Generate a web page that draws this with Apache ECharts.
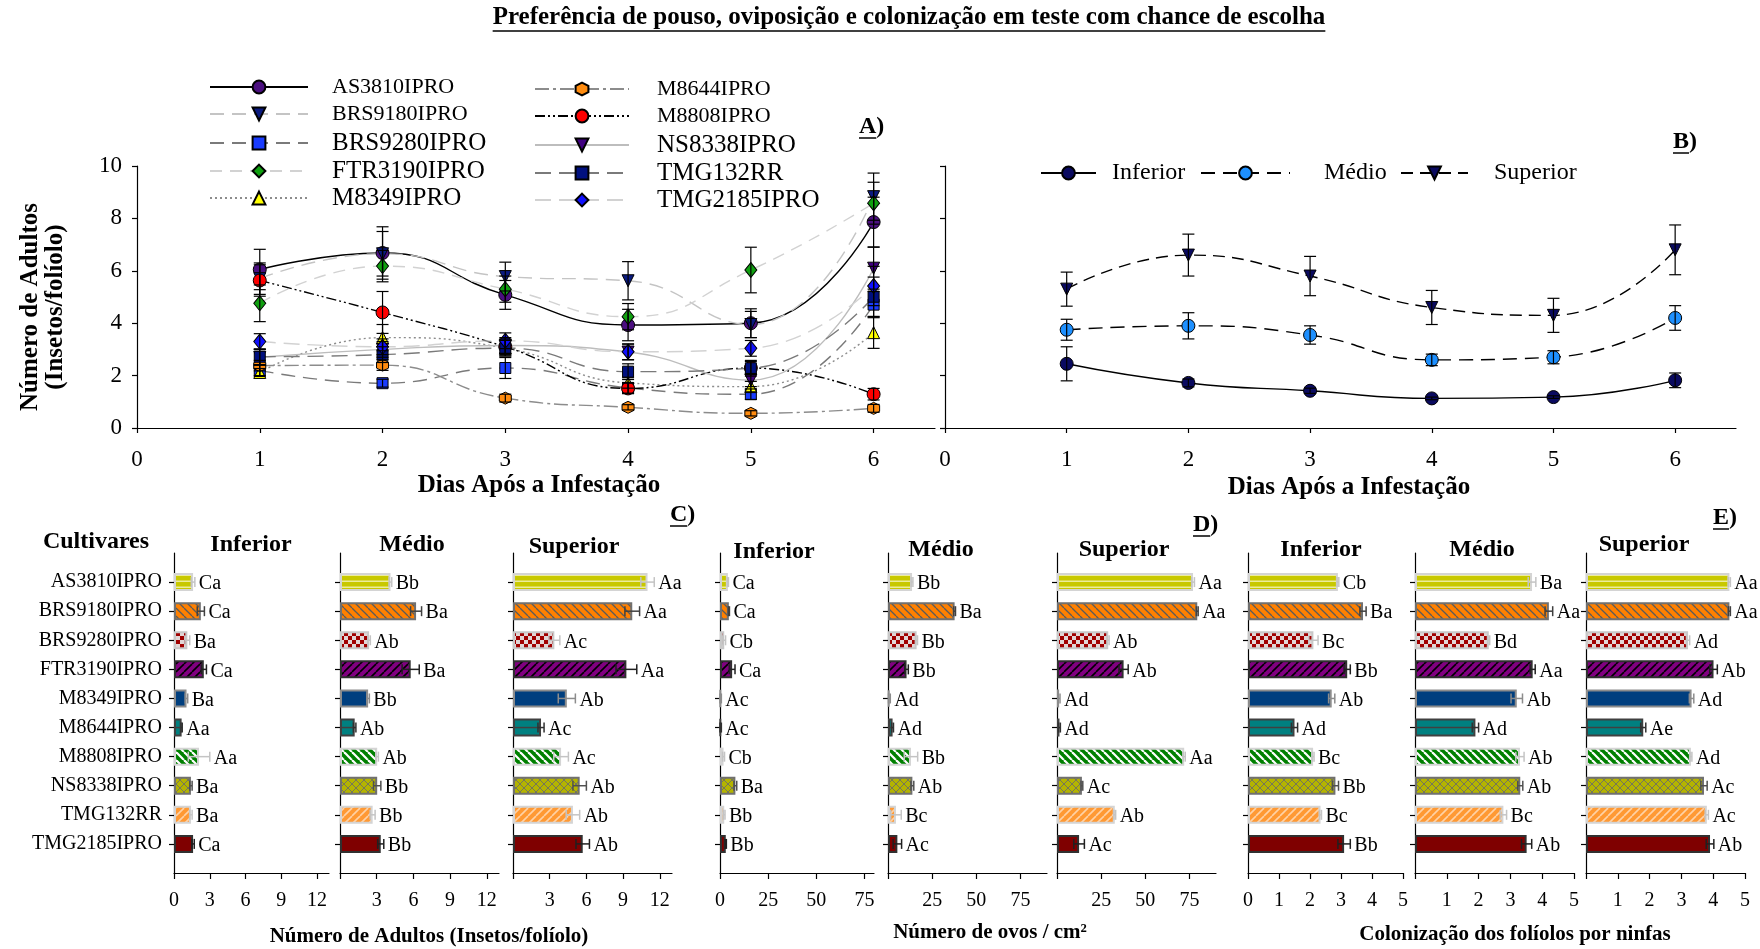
<!DOCTYPE html>
<html>
<head>
<meta charset="utf-8">
<title>Preferência de pouso, oviposição e colonização</title>
<script src="https://cdn.jsdelivr.net/npm/echarts@6.0.0/dist/echarts.min.js"></script>
<style>
  html, body { margin: 0; padding: 0; background: #fff; }
  #chart { width: 1760px; height: 949px; }
</style>
</head>
<body>
<div id="chart"></div>
<script>
(function () {
  /** Data */
  var cultivars = ['AS3810IPRO', 'BRS9180IPRO', 'BRS9280IPRO', 'FTR3190IPRO', 'M8349IPRO',
    'M8644IPRO', 'M8808IPRO', 'NS8338IPRO', 'TMG132RR', 'TMG2185IPRO'];
  var days = [1, 2, 3, 4, 5, 6];

  // A) adultos/folíolo por cultivar, dias 1..6
  var adultsByDay = [
    [6.05, 6.68, 5.08, 3.93, 4.00, 7.86],
    [5.70, 6.65, 5.78, 5.62, 3.95, 8.83],
    [2.20, 1.71, 2.29, 1.53, 1.29, 4.71],
    [4.76, 6.18, 5.30, 4.25, 6.03, 8.58],
    [2.12, 3.45, 3.05, 1.72, 1.58, 3.64],
    [2.38, 2.40, 1.14, 0.79, 0.56, 0.75],
    [5.63, 4.41, 3.10, 1.51, 2.29, 1.29],
    [2.70, 3.00, 3.15, 2.90, 1.83, 6.10],
    [2.72, 2.80, 3.05, 2.15, 2.28, 5.01],
    [3.30, 3.10, 3.33, 2.91, 3.04, 5.42]
  ];
  var adultsByDayErr = [
    [0.77, 1.00, 0.55, 0.60, 0.55, 0.95],
    [0.60, 0.85, 0.55, 0.73, 0.50, 0.90],
    [0.20, 0.15, 0.40, 0.20, 0.20, 0.50],
    [0.70, 0.60, 0.50, 0.50, 0.87, 0.80],
    [0.15, 0.50, 0.30, 0.20, 0.20, 0.60],
    [0.20, 0.20, 0.15, 0.10, 0.10, 0.15],
    [0.60, 0.80, 0.30, 0.20, 0.25, 0.22],
    [0.30, 0.30, 0.30, 0.30, 0.25, 0.80],
    [0.30, 0.30, 0.30, 0.30, 0.30, 0.75],
    [0.30, 0.30, 0.30, 0.30, 0.30, 0.75]
  ];

  // B) estratos da planta
  var strata = ['Inferior', 'Médio', 'Superior'];
  var strataInf = [2.45, 1.72, 1.42, 1.13, 1.18, 1.82];
  var strataInfErr = [0.65, 0.15, 0.10, 0.05, 0.05, 0.28];
  var strataMed = [3.75, 3.90, 3.55, 2.60, 2.70, 4.20];
  var strataMedErr = [0.40, 0.50, 0.35, 0.22, 0.25, 0.47];
  var strataSup = [5.30, 6.60, 5.80, 4.60, 4.30, 6.80];
  var strataSupErr = [0.65, 0.80, 0.75, 0.65, 0.65, 0.95];

  // C) número de adultos (insetos/folíolo)
  var adultInf = [1.60, 2.25, 1.12, 2.50, 1.05, 0.64, 2.10, 1.42, 1.42, 1.60];
  var adultInfErr = [0.15, 0.30, 0.20, 0.22, 0.10, 0.05, 0.90, 0.10, 0.10, 0.10];
  var adultInfLet = ['Ca', 'Ca', 'Ba', 'Ca', 'Ba', 'Aa', 'Aa', 'Ba', 'Ba', 'Ca'];
  var adultMed = [4.13, 6.22, 2.38, 5.78, 2.30, 1.20, 3.04, 3.04, 2.67, 3.33];
  var adultMedErr = [0.10, 0.45, 0.10, 0.70, 0.10, 0.10, 0.10, 0.30, 0.20, 0.25];
  var adultMedLet = ['Bb', 'Ba', 'Ab', 'Ba', 'Bb', 'Ab', 'Ab', 'Bb', 'Bb', 'Bb'];
  var adultSup = [11.0, 9.75, 3.38, 9.27, 4.40, 2.29, 3.93, 5.45, 4.90, 5.70];
  var adultSupErr = [0.55, 0.60, 0.45, 0.85, 0.70, 0.25, 0.60, 0.55, 0.55, 0.55];
  var adultSupLet = ['Aa', 'Aa', 'Ac', 'Aa', 'Ab', 'Ac', 'Ac', 'Ab', 'Ab', 'Ab'];

  // D) número de ovos / cm2
  var eggInf = [4.1, 4.6, 2.2, 6.3, 0.3, 0.3, 1.85, 8.0, 2.2, 3.0];
  var eggInfErr = [0.3, 0.3, 0.7, 1.5, 0.4, 0.4, 0.5, 0.7, 0.4, 0.3];
  var eggInfLet = ['Ca', 'Ca', 'Cb', 'Ca', 'Ac', 'Ac', 'Cb', 'Ba', 'Bb', 'Bb'];
  var eggMed = [13.6, 37.7, 16.2, 10.5, 0.8, 2.6, 13.0, 13.8, 4.5, 5.3];
  var eggMedErr = [0.5, 0.5, 0.5, 1.0, 0.5, 0.5, 3.8, 0.8, 3.0, 2.4];
  var eggMedLet = ['Bb', 'Ba', 'Bb', 'Bb', 'Ad', 'Ad', 'Bb', 'Ab', 'Bc', 'Ac'];
  var eggSup = [77.0, 79.4, 29.0, 37.7, 1.2, 1.4, 72.0, 14.1, 32.7, 12.5];
  var eggSupErr = [0.8, 0.5, 0.5, 2.6, 0.5, 0.5, 0.6, 0.5, 0.5, 3.0];
  var eggSupLet = ['Aa', 'Aa', 'Ab', 'Ab', 'Ad', 'Ad', 'Aa', 'Ac', 'Ab', 'Ac'];

  // E) colonização dos folíolos por ninfas
  var colInf = [2.90, 3.71, 2.11, 3.20, 2.70, 1.50, 2.10, 2.82, 2.34, 3.10];
  var colInfErr = [0.03, 0.10, 0.15, 0.10, 0.10, 0.10, 0.03, 0.10, 0.03, 0.20];
  var colInfLet = ['Cb', 'Ba', 'Bc', 'Bb', 'Ab', 'Ad', 'Bc', 'Bb', 'Bc', 'Bb'];
  var colMed = [3.68, 4.21, 2.32, 3.70, 3.20, 1.90, 3.30, 3.31, 2.78, 3.51];
  var colMedErr = [0.12, 0.12, 0.03, 0.08, 0.18, 0.10, 0.13, 0.08, 0.10, 0.16];
  var colMedLet = ['Ba', 'Aa', 'Bd', 'Aa', 'Ab', 'Ad', 'Ab', 'Ab', 'Bc', 'Ab'];
  var colSup = [4.51, 4.51, 3.21, 4.01, 3.32, 1.80, 3.30, 3.71, 3.80, 3.90];
  var colSupErr = [0.03, 0.03, 0.05, 0.12, 0.07, 0.08, 0.03, 0.10, 0.05, 0.12];
  var colSupLet = ['Aa', 'Aa', 'Ad', 'Ab', 'Ad', 'Ae', 'Ad', 'Ac', 'Ac', 'Ab'];

  /** Styles */
  var serif = '"Liberation Serif", "Times New Roman", serif';
  var triDown = 'path://M0,0 L12,0 L6,11 Z';
  var hexagon = 'path://M6,0 L12,3.5 L12,10.5 L6,14 L0,10.5 L0,3.5 Z';

  var lineLook = [
    { fill: '#4b0f7f', line: '#000000', dash: 'solid',         symbol: 'circle',   size: 13 },
    { fill: '#0a1a80', line: '#c4c4c4', dash: [14, 8],         symbol: triDown,    size: 12 },
    { fill: '#1a3cff', line: '#7a7a7a', dash: [14, 8],         symbol: 'rect',     size: 11 },
    { fill: '#10a010', line: '#d2d2d2', dash: [12, 8],         symbol: 'diamond',  size: [12, 15] },
    { fill: '#ffff00', line: '#8c8c8c', dash: [2, 3],          symbol: 'triangle', size: 12 },
    { fill: '#ff8c10', line: '#8c8c8c', dash: [14, 4, 3, 4],   symbol: hexagon,    size: 12 },
    { fill: '#ff0000', line: '#000000', dash: [10, 3, 2, 3, 2, 3], symbol: 'circle', size: 13 },
    { fill: '#400080', line: '#bdbdbd', dash: 'solid',         symbol: triDown,    size: 12 },
    { fill: '#00107f', line: '#7a7a7a', dash: [16, 8],         symbol: 'rect',     size: 11 },
    { fill: '#1010ff', line: '#d2d2d2', dash: [16, 8],         symbol: 'diamond',  size: [12, 15] }
  ];
  var legendSize = [22, 22, 25, 25, 25, 22, 22, 25, 25, 25];

  function makePattern(bg, fg, kind, lw) {
    var c = document.createElement('canvas');
    c.width = 8; c.height = kind === 'hline' ? 6 : 8;
    var g = c.getContext('2d');
    g.fillStyle = bg; g.fillRect(0, 0, c.width, c.height);
    g.strokeStyle = fg; g.fillStyle = fg; g.lineWidth = lw || 1.5;
    if (kind === 'hline') {
      g.fillRect(0, 4.5, 8, 1.5);
    } else if (kind === 'down' || kind === 'up' || kind === 'cross') {
      [-8, 0, 8].forEach(function (o) {
        if (kind !== 'up') { g.beginPath(); g.moveTo(o, 0); g.lineTo(o + 8, 8); g.stroke(); }
        if (kind !== 'down') { g.beginPath(); g.moveTo(o, 8); g.lineTo(o + 8, 0); g.stroke(); }
      });
    } else if (kind === 'dots') {
      g.fillRect(0, 0, 4, 4); g.fillRect(4, 4, 4, 4);
    }
    return { image: c, repeat: 'repeat' };
  }

  var barFills = [
    makePattern('#c8c800', '#ecec9c', 'hline'),
    makePattern('#ff8000', '#5a5a5a', 'down', 1.3),
    makePattern('#e2d6d6', '#a00000', 'dots'),
    makePattern('#800080', '#000000', 'up', 1.6),
    '#003f7f',
    '#008080',
    makePattern('#008000', '#ffffff', 'down', 2.2),
    makePattern('#b4b400', '#76765a', 'cross', 1),
    makePattern('#ff9933', '#ffd2a6', 'up', 1.6),
    '#7f0000'
  ];
  var barBorders = ['#d4d4d4', '#707070', '#c8c8c8', '#303030', '#8c8c8c',
    '#404040', '#d4d4d4', '#707070', '#d4d4d4', '#303030'];
  var errColors = ['#c4c4c4', '#404040', '#c4c4c4', '#202020', '#8c8c8c',
    '#303030', '#c4c4c4', '#505050', '#c4c4c4', '#202020'];

  var measureCtx = document.createElement('canvas').getContext('2d');
  function textWidth(text, font) { measureCtx.font = font; return measureCtx.measureText(text).width; }

  /** Panels */
  var catSlots = [''].concat(cultivars, [' ']);
  var grids = [
    { left: 137, top: 166, width: 798, height: 262 },
    { left: 945, top: 166, width: 791, height: 262 }
  ];
  var xAxes = [];
  var yAxes = [];
  var series = [];
  var legends = [];

  var axisLineStyle = { color: '#000', width: 1.2 };
  var tickFont = { color: '#000', fontFamily: serif };

  // A and B: dias após a infestação
  [0, 1].forEach(function (g) {
    xAxes.push({
      gridIndex: g, type: 'value', min: 0, max: 6.5,
      axisLine: { lineStyle: axisLineStyle },
      axisTick: { length: 5, customValues: [0].concat(days), lineStyle: axisLineStyle },
      axisLabel: Object.assign({ customValues: [0].concat(days), fontSize: 23, margin: 20 }, tickFont),
      splitLine: { show: false }
    });
    yAxes.push({
      gridIndex: g, type: 'value', min: 0, max: 10, interval: 2,
      axisLine: { show: true, lineStyle: axisLineStyle },
      axisTick: { show: true, length: 5, lineStyle: axisLineStyle },
      axisLabel: Object.assign({ show: g === 0, fontSize: 23, margin: 15 }, tickFont),
      splitLine: { show: false }
    });
  });

  function vErrorItem(params, api) {
    var x = api.value(0), v = api.value(1), e = api.value(2);
    var top = api.coord([x, v + e]), bot = api.coord([x, Math.max(v - e, 0)]);
    var st = { stroke: '#000', lineWidth: 1.2 };
    return { type: 'group', children: [
      { type: 'line', shape: { x1: top[0], y1: top[1], x2: bot[0], y2: bot[1] }, style: st },
      { type: 'line', shape: { x1: top[0] - 6, y1: top[1], x2: top[0] + 6, y2: top[1] }, style: st },
      { type: 'line', shape: { x1: bot[0] - 6, y1: bot[1], x2: bot[0] + 6, y2: bot[1] }, style: st }
    ] };
  }

  var errA = [];
  cultivars.forEach(function (name, i) {
    var look = lineLook[i];
    series.push({
      name: name, type: 'line', xAxisIndex: 0, yAxisIndex: 0, smooth: true,
      symbol: look.symbol, symbolSize: look.size, z: 2,
      itemStyle: { color: look.fill, borderColor: '#000', borderWidth: 1 },
      lineStyle: { color: look.line, width: 1.4, type: look.dash },
      data: days.map(function (d, k) { return [d, adultsByDay[i][k]]; })
    });
    days.forEach(function (d, k) { errA.push([d, adultsByDay[i][k], adultsByDayErr[i][k]]); });
    var col = i < 5 ? 0 : 1;
    var rowsY = col === 0 ? [87, 114, 143, 171, 198] : [89, 116, 145, 173, 200];
    legends.push({
      data: [{ name: name, textStyle: { fontSize: legendSize[i] } }],
      left: col === 0 ? 209 : 534, top: rowsY[i % 5] - 13, padding: 0,
      itemWidth: col === 0 ? 98 : 94, itemHeight: 16, selectedMode: false,
      textStyle: { color: '#000', fontFamily: serif, lineHeight: 26, padding: [0, 0, 0, col === 0 ? 19 : 23] }
    });
  });
  series.push({ type: 'custom', xAxisIndex: 0, yAxisIndex: 0, encode: { x: 0, y: 1 },
    renderItem: vErrorItem, data: errA, z: 3, silent: true });

  var strataVals = [strataInf, strataMed, strataSup];
  var strataErrs = [strataInfErr, strataMedErr, strataSupErr];
  var strataLook = [
    { fill: '#0a0a60', dash: 'solid', symbol: 'circle', icon: 55, left: 1040, pad: 11 },
    { fill: '#1e90ff', dash: [14, 8], symbol: 'circle', icon: 89, left: 1200, pad: 29 },
    { fill: '#0a0a60', dash: [12, 7], symbol: triDown, icon: 67, left: 1400, pad: 21 }
  ];
  var errB = [];
  strata.forEach(function (name, s) {
    var look = strataLook[s];
    series.push({
      name: name, type: 'line', xAxisIndex: 1, yAxisIndex: 1, smooth: true,
      symbol: look.symbol, symbolSize: look.symbol === 'circle' ? 13 : 12, z: 2,
      itemStyle: { color: look.fill, borderColor: '#000', borderWidth: 1 },
      lineStyle: { color: '#000', width: 1.4, type: look.dash },
      data: days.map(function (d, k) { return [d, strataVals[s][k]]; })
    });
    days.forEach(function (d, k) { errB.push([d, strataVals[s][k], strataErrs[s][k]]); });
    legends.push({
      data: [name], left: look.left, top: 173 - 13, padding: 0,
      itemWidth: look.icon, itemHeight: 16, selectedMode: false,
      textStyle: { color: '#000', fontFamily: serif, fontSize: 24, lineHeight: 26, padding: [0, 0, 0, look.pad] }
    });
  });
  series.push({ type: 'custom', xAxisIndex: 1, yAxisIndex: 1, encode: { x: 0, y: 1 },
    renderItem: vErrorItem, data: errB, z: 3, silent: true });

  // C, D, E: barras horizontais por estrato
  var barPanels = [
    { left: 174, width: 155, max: 13, ticks: [0, 3, 6, 9, 12], labels: [0, 3, 6, 9, 12], vals: adultInf, errs: adultInfErr, lets: adultInfLet },
    { left: 340, width: 159, max: 13, ticks: [0, 3, 6, 9, 12], labels: [3, 6, 9, 12], vals: adultMed, errs: adultMedErr, lets: adultMedLet },
    { left: 513, width: 159, max: 13, ticks: [0, 3, 6, 9, 12], labels: [3, 6, 9, 12], vals: adultSup, errs: adultSupErr, lets: adultSupLet },
    { left: 720, width: 154, max: 80, ticks: [0, 25, 50, 75], labels: [0, 25, 50, 75], vals: eggInf, errs: eggInfErr, lets: eggInfLet },
    { left: 888, width: 159, max: 90, ticks: [0, 25, 50, 75], labels: [25, 50, 75], vals: eggMed, errs: eggMedErr, lets: eggMedLet },
    { left: 1057, width: 159, max: 90, ticks: [0, 25, 50, 75], labels: [25, 50, 75], vals: eggSup, errs: eggSupErr, lets: eggSupLet },
    { left: 1248, width: 155, max: 5, ticks: [0, 1, 2, 3, 4, 5], labels: [0, 1, 2, 3, 4, 5], vals: colInf, errs: colInfErr, lets: colInfLet },
    { left: 1415, width: 159, max: 5, ticks: [0, 1, 2, 3, 4, 5], labels: [1, 2, 3, 4, 5], vals: colMed, errs: colMedErr, lets: colMedLet },
    { left: 1586, width: 159, max: 5, ticks: [0, 1, 2, 3, 4, 5], labels: [1, 2, 3, 4, 5], vals: colSup, errs: colSupErr, lets: colSupLet }
  ];

  function hErrorRender(lets) {
    return function (params, api) {
      var i = params.dataIndex;
      var v = api.value(0), y = api.value(1), e = api.value(2);
      var lo = api.coord([Math.max(v - e, 0), y]), hi = api.coord([v + e, y]);
      var st = { stroke: errColors[i], lineWidth: 1.5 };
      var kids = [];
      if (i === 5) {
        var z0 = api.coord([0, y]), z1 = api.coord([v, y]);
        kids.push({ type: 'line', shape: { x1: z0[0], y1: z0[1], x2: z1[0], y2: z1[1] }, style: { stroke: '#404040', lineWidth: 1.5 } });
      }
      kids.push(
        { type: 'line', shape: { x1: lo[0], y1: lo[1], x2: hi[0], y2: hi[1] }, style: st },
        { type: 'line', shape: { x1: lo[0], y1: lo[1] - 5, x2: lo[0], y2: lo[1] + 5 }, style: st },
        { type: 'line', shape: { x1: hi[0], y1: hi[1] - 5, x2: hi[0], y2: hi[1] + 5 }, style: st },
        { type: 'text', x: hi[0] + 4, y: hi[1] + 2,
          style: { text: lets[i], fill: '#000', font: '20px ' + serif, align: 'left', verticalAlign: 'middle' } }
      );
      return { type: 'group', children: kids };
    };
  }

  barPanels.forEach(function (p, k) {
    var g = grids.length;
    grids.push({ left: p.left, top: 553, width: p.width, height: 320 });
    xAxes.push({
      gridIndex: g, type: 'value', min: 0, max: p.max,
      axisLine: { show: true, lineStyle: axisLineStyle },
      axisTick: { show: true, length: 6, customValues: p.ticks, lineStyle: axisLineStyle },
      axisLabel: Object.assign({ customValues: p.labels, fontSize: 20, margin: 18 }, tickFont),
      splitLine: { show: false }
    });
    yAxes.push({
      gridIndex: g, type: 'category', inverse: true, boundaryGap: false, data: catSlots,
      axisLine: { show: true, lineStyle: axisLineStyle },
      axisTick: { show: true, length: 5, lineStyle: axisLineStyle,
        interval: function (idx) { return idx > 0 && idx < catSlots.length - 1; } },
      axisLabel: Object.assign({ show: k === 0, interval: 0, fontSize: 20, margin: 12 }, tickFont),
      splitLine: { show: false }
    });
    var items = p.vals.map(function (v, i) {
      return { value: v, itemStyle: { color: barFills[i], borderColor: barBorders[i], borderWidth: 2 } };
    });
    series.push({
      type: 'bar', xAxisIndex: g, yAxisIndex: g, barWidth: 18, silent: true, z: 2,
      data: ['-'].concat(items, ['-'])
    });
    series.push({
      type: 'custom', xAxisIndex: g, yAxisIndex: g, encode: { x: 0, y: 1 }, z: 3, silent: true,
      renderItem: hErrorRender(p.lets),
      data: p.vals.map(function (v, i) { return [v, i + 1, p.errs[i]]; })
    });
  });

  /** Texts */
  var graphics = [];
  function text(str, x, y, font, opt) {
    graphics.push(Object.assign({
      type: 'text', x: x, y: y, silent: true,
      style: { text: str, font: font, fill: '#000', align: 'center', verticalAlign: 'middle' }
    }, opt || {}));
  }
  function underline(x1, x2, y) {
    graphics.push({ type: 'line', silent: true, shape: { x1: x1, y1: y, x2: x2, y2: y }, style: { stroke: '#000', lineWidth: 1.5 } });
  }
  function panelTag(letter, x, y) {
    var f = 'bold 24px ' + serif;
    var w = textWidth(letter, f);
    text(letter + ')', x, y, f, { style: { text: letter + ')', font: f, fill: '#000', align: 'left', verticalAlign: 'middle' } });
    underline(x, x + w, y + 11);
  }

  var titleText = 'Preferência de pouso, oviposição e colonização em teste com chance de escolha';
  var titleFont = 'bold 25px ' + serif;
  var tw = textWidth(titleText, titleFont);
  text(titleText, 909, 18, titleFont);
  underline(909 - tw / 2, 909 + tw / 2, 31);

  panelTag('A', 859, 127);
  panelTag('B', 1673, 142);
  panelTag('C', 670, 515);
  panelTag('D', 1193, 525);
  panelTag('E', 1713, 518);

  var axisNameFont = 'bold 25px ' + serif;
  graphics.push({
    type: 'text', x: 43, y: 307, rotation: Math.PI / 2, silent: true,
    style: { text: 'Número de Adultos\n(Insetos/folíolo)', font: axisNameFont, lineHeight: 25,
      fill: '#000', align: 'center', verticalAlign: 'middle' }
  });
  text('Dias Após a Infestação', 539, 486, axisNameFont);
  text('Dias Após a Infestação', 1349, 488, axisNameFont);

  var headFont = 'bold 24px ' + serif;
  text('Cultivares', 96, 542, headFont);
  [[251, 545], [412, 545], [574, 547], [774, 552], [941, 550], [1124, 550], [1321, 550], [1482, 550], [1644, 545]]
    .forEach(function (pos, k) { text(strata[k % 3], pos[0], pos[1], headFont); });

  var bottomNameFont = 'bold 21px ' + serif;
  text('Número de Adultos (Insetos/folíolo)', 429, 937, bottomNameFont);
  text('Número de ovos / cm²', 990, 933, bottomNameFont);
  text('Colonização dos folíolos por ninfas', 1515, 935, bottomNameFont);

  var option = {
    animation: false,
    backgroundColor: '#ffffff',
    textStyle: { fontFamily: serif },
    grid: grids.map(function (g) { return Object.assign({ outerBoundsMode: 'none' }, g); }),
    xAxis: xAxes,
    yAxis: yAxes,
    legend: legends,
    series: series,
    graphic: graphics
  };

  echarts.init(document.getElementById('chart'), null, { renderer: 'canvas' }).setOption(option);
})();
</script>
</body>
</html>
